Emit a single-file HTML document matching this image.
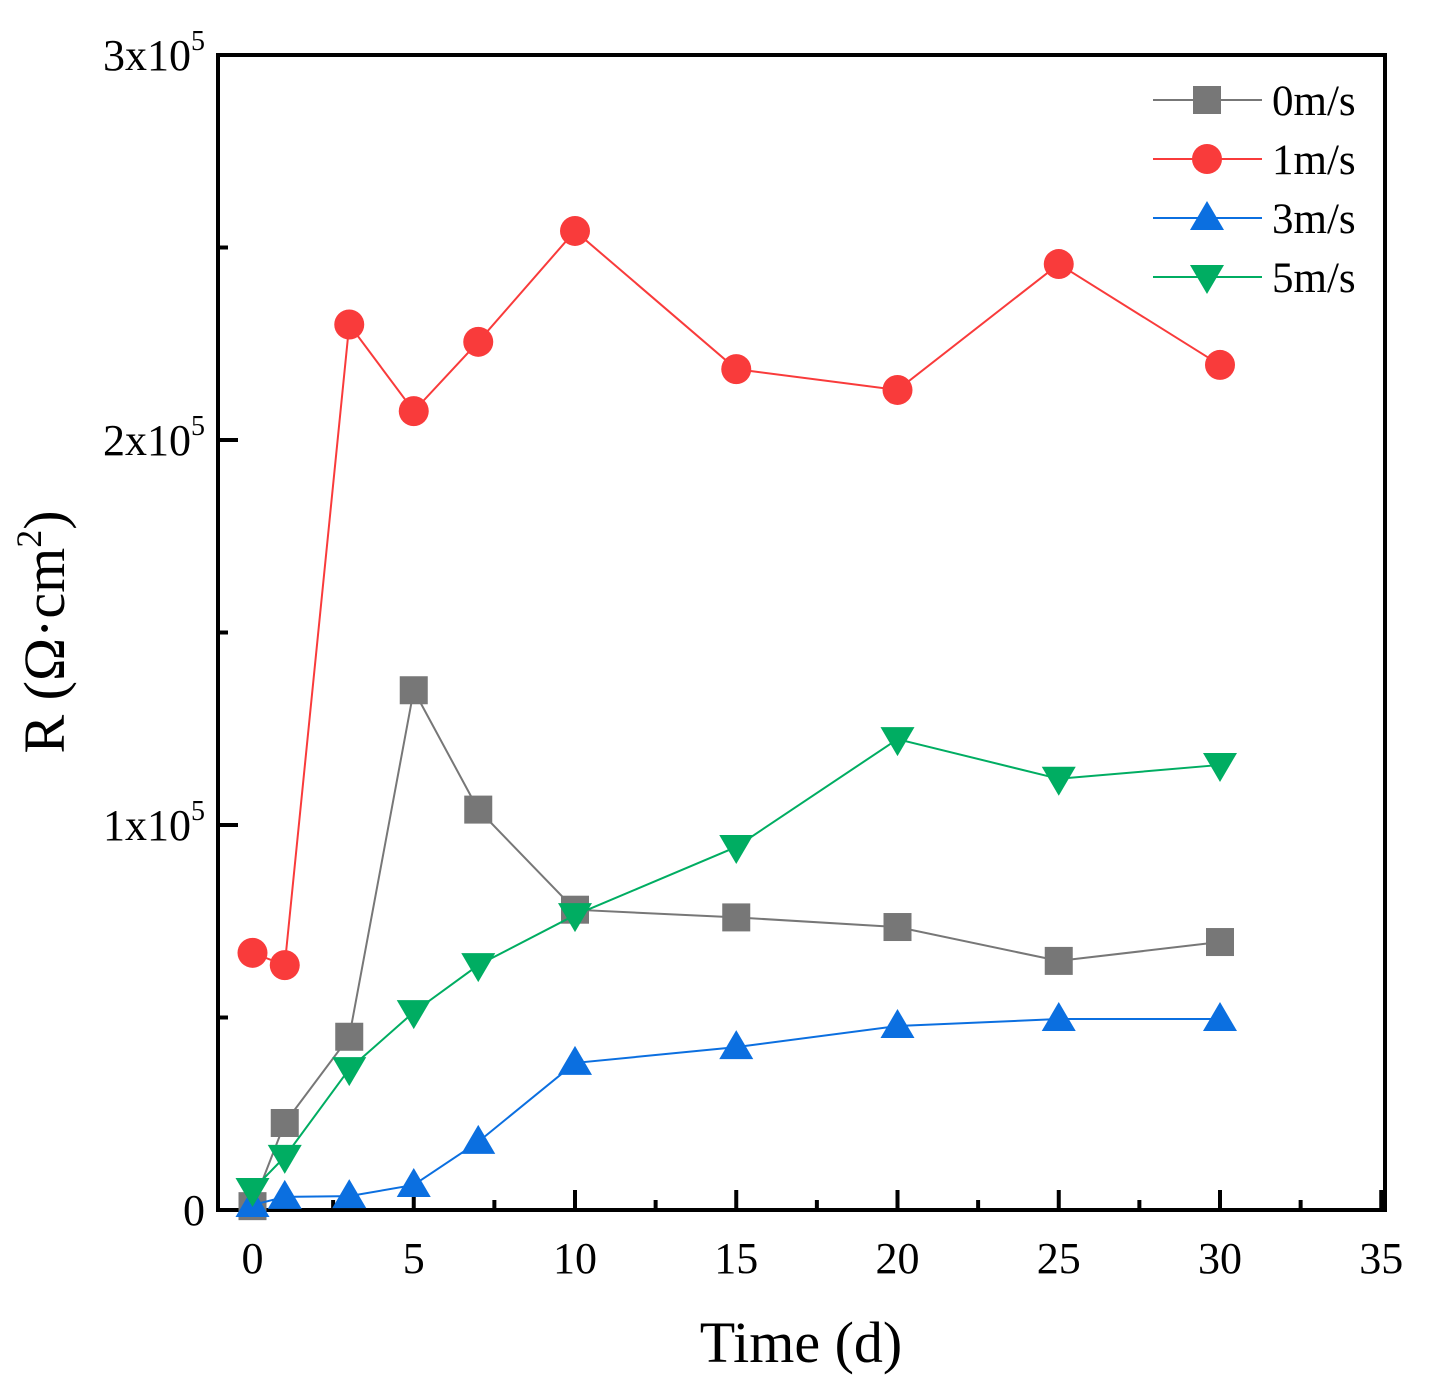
<!DOCTYPE html>
<html><head><meta charset="utf-8"><style>
html,body{margin:0;padding:0;background:#fff;}
svg{display:block;font-family:"Liberation Serif",serif;}
</style></head><body>
<svg id="chart" width="1433" height="1390"></svg>
<script>
const days=[0,1,3,5,7,10,15,20,25,30];
const s0=[1000,22600,45000,135000,104000,78000,76000,73500,64700,69600];
const s1=[66800,63600,230000,207500,225500,254300,218400,213000,245700,219500];
const s3=[1300,3400,3600,6500,17700,38200,42300,47800,49600,49600];
const s5=[5200,13800,36600,51400,63600,76600,94300,122300,112000,115600];
const xTicks=[0,5,10,15,20,25,30,35];
const yTicks=[0,1,2,3];
const seriesNames=["0m/s","1m/s","3m/s","5m/s"];
const NS="http://www.w3.org/2000/svg";
const svg=document.getElementById('chart');
const L=218,R=1385,T=55,B=1210;
const X=v=>252.5+v*32.25;
const Y=v=>B-v/100000*385;
function mk(tag,a,parent){const e=document.createElementNS(NS,tag);for(const k in a)e.setAttribute(k,a[k]);(parent||svg).appendChild(e);return e;}
const frame=mk('rect',{x:L,y:T,width:R-L,height:B-T,fill:'none',stroke:'#000','stroke-width':4});


for(let v=0;v<=35;v+=2.5){const major=v%5===0;const t=mk('line',{x1:X(v),x2:X(v),y1:B,y2:B-(major?20:10),stroke:'#000','stroke-width':4});

}
xTicks.forEach(v=>{const t=mk('text',{x:X(v),y:B+63,'font-size':44,'text-anchor':'middle'});t.textContent=v;

});
for(let v=0;v<=300000;v+=50000){const major=v%100000===0;const t=mk('line',{x1:L,x2:L+(major?20:10),y1:Y(v),y2:Y(v),stroke:'#000','stroke-width':4});

}
yTicks.forEach(v=>{const t=mk('text',{x:205,y:Y(v*100000)+15,'font-size':44,'text-anchor':'end'});
if(v===0){t.textContent='0';}else{t.textContent=v+'x10';const s=mk('tspan',{dy:-20,'font-size':28},t);s.textContent='5';}

});
const xt=mk('text',{x:801,y:1362,'font-size':58,'text-anchor':'middle'});xt.textContent='Time (d)';


const yt=mk('text',{transform:'translate(64,632) rotate(-90)','font-size':58,'text-anchor':'middle'});
yt.textContent='R (Ω·cm';const sup=mk('tspan',{dy:-23,'font-size':36},yt);sup.textContent='2';const cl=mk('tspan',{dy:23},yt);cl.textContent=')';


function marker(type,cx,cy,color,g){
 if(type==='sq')return mk('rect',{x:cx-14,y:cy-14,width:28,height:28,fill:color},g);
 if(type==='ci')return mk('circle',{cx:cx,cy:cy,r:15,fill:color},g);
 if(type==='up')return mk('polygon',{points:`${cx},${cy-17} ${cx-17},${cy+12} ${cx+17},${cy+12}`,fill:color},g);
 return mk('polygon',{points:`${cx},${cy+17} ${cx-17},${cy-12} ${cx+17},${cy-12}`,fill:color},g);
}
const series=[[s0,'#777777','sq'],[s1,'#f93b3b','ci'],[s3,'#0b6fe0','up'],[s5,'#00ad62','dn']];
series.forEach(([vals,c,m],i)=>{
 const g=mk('g',{});
 
 
 mk('polyline',{points:days.map((d,j)=>X(d)+','+Y(vals[j])).join(' '),fill:'none',stroke:c,'stroke-width':2},g);
 days.forEach((d,j)=>{const p=marker(m,X(d),Y(vals[j]),c,g);
  
  });
 const ly=100+i*59;
 const lg=mk('g',{});
 
 
 mk('line',{x1:1153,x2:1262,y1:ly,y2:ly,stroke:c,'stroke-width':2},lg);
 marker(m,1207,ly,c,lg);
 const t=mk('text',{x:1272,y:ly+15,'font-size':43},lg);t.textContent=seriesNames[i];
});
</script>
</body></html>
